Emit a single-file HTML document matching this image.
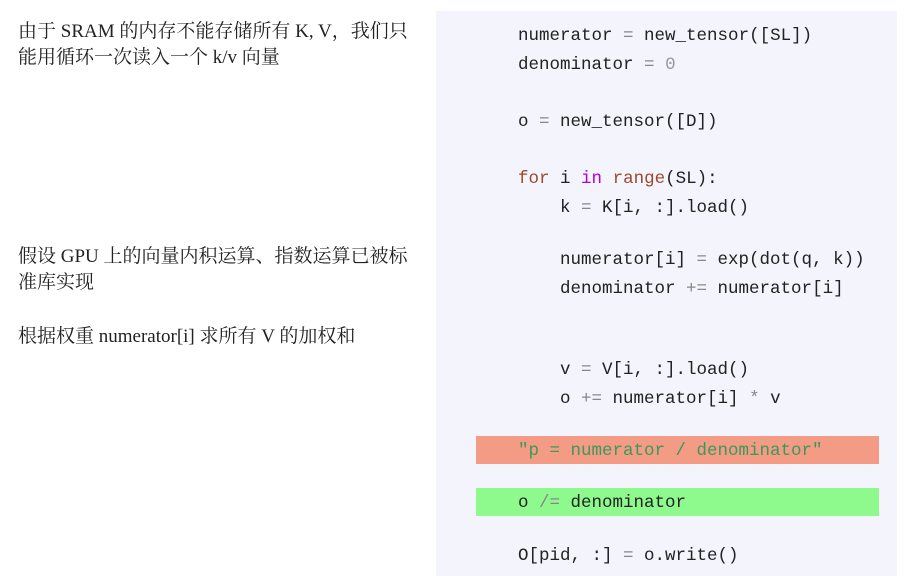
<!DOCTYPE html>
<html><head><meta charset="utf-8"><style>
body{margin:0;width:913px;height:576px;background:#fff;position:relative;overflow:hidden}
.l{position:absolute;left:18px;font-family:"Liberation Serif","Noto Serif CJK SC",serif;font-size:19px;color:#222;line-height:26px;white-space:nowrap}
.panel{position:absolute;left:436px;top:11px;width:461px;height:565px;background:#f3f4fc}
.bar{position:absolute;left:476px;width:403px;height:28px}
.c{position:absolute;left:518px;font-family:"Liberation Mono","DejaVu Sans Mono",monospace;font-size:17.5px;color:#222;white-space:pre;line-height:20px}
.o{color:#888}.k{color:#9b4a2c}.p{color:#b000e0}.s{color:#3a9a5a}.n{color:#999}
</style></head><body>
<div class="l" style="top:19px">由于 SRAM 的内存不能存储所有 K, V，我们只<br>能用循环一次读入一个 k/v 向量</div>
<div class="l" style="top:244px">假设 GPU 上的向量内积运算、指数运算已被标<br>准库实现</div>
<div class="l" style="top:324px">根据权重 numerator[i] 求所有 V 的加权和</div>
<div class="panel"></div>
<div class="bar" style="top:436px;background:#f49b86"></div>
<div class="bar" style="top:488px;background:#8efa8e"></div>
<div class="c" style="top:26px">numerator <span class="o">=</span> new_tensor([SL])</div>
<div class="c" style="top:55px">denominator <span class="o">=</span> <span class="n">0</span></div>
<div class="c" style="top:112px">o <span class="o">=</span> new_tensor([D])</div>
<div class="c" style="top:169px"><span class="k">for</span> i <span class="p">in</span> <span class="k">range</span>(SL):</div>
<div class="c" style="top:198px">    k <span class="o">=</span> K[i, :].load()</div>
<div class="c" style="top:250px">    numerator[i] <span class="o">=</span> exp(dot(q, k))</div>
<div class="c" style="top:279px">    denominator <span class="o">+=</span> numerator[i]</div>
<div class="c" style="top:360px">    v <span class="o">=</span> V[i, :].load()</div>
<div class="c" style="top:389px">    o <span class="o">+=</span> numerator[i] <span class="o">*</span> v</div>
<div class="c s" style="top:441px">"p = numerator / denominator"</div>
<div class="c" style="top:493px">o <span class="o">/=</span> denominator</div>
<div class="c" style="top:546px">O[pid, :] <span class="o">=</span> o.write()</div>
</body></html>
